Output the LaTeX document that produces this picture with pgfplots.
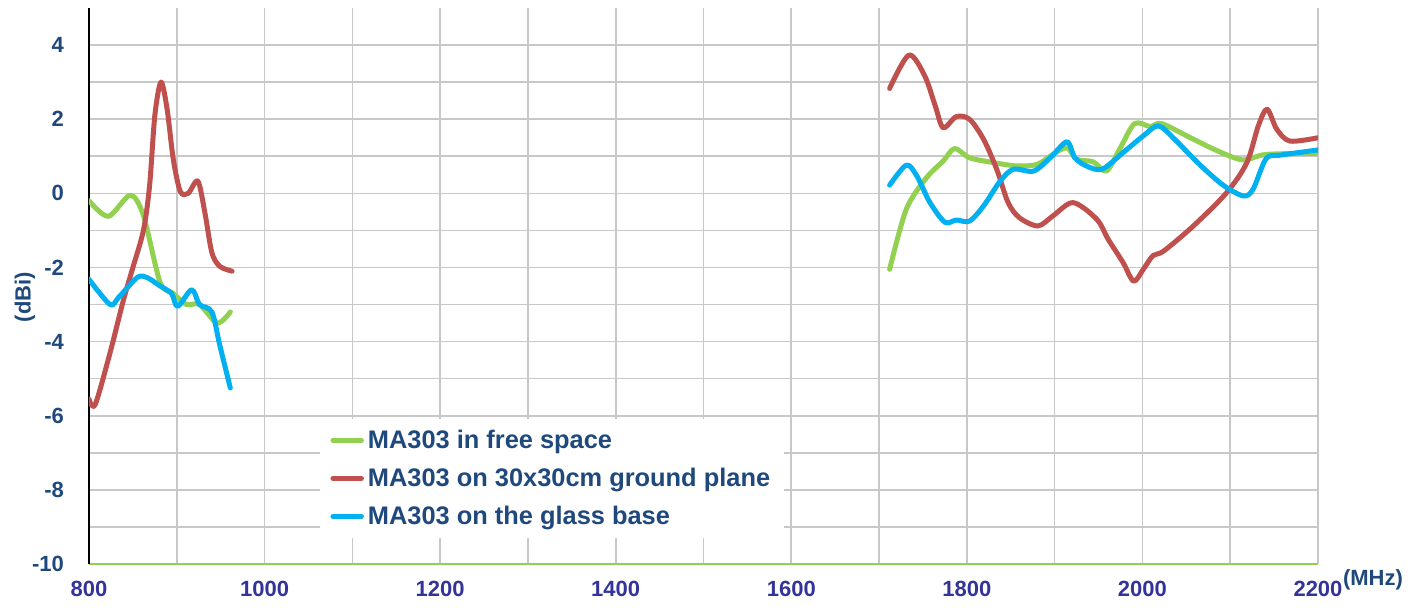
\documentclass[border=0pt]{standalone}
\usepackage{fontspec}
\setmainfont{Liberation Sans}
\usepackage{pgfplots}
\pgfplotsset{compat=1.18}
\definecolor{cgreen}{RGB}{146,208,80}
\definecolor{cred}{RGB}{192,80,77}
\definecolor{cblue}{RGB}{0,176,240}
\definecolor{navy}{RGB}{31,73,125}
\definecolor{xnavy}{RGB}{51,51,153}
\definecolor{gridgray}{RGB}{200,200,200}
\begin{document}
\begin{tikzpicture}
\path[use as bounding box] (-44.5pt,-21.5pt) rectangle (666pt,282pt);
\begin{axis}[
    at={(0,0)}, anchor=south west,
    scale only axis,
    width=614.5pt, height=278pt,
    xmin=800, xmax=2200, ymin=-10, ymax=5,
    axis x line*=bottom, axis y line*=left,
    x axis line style={-, draw=cgreen, line width=1pt},
    y axis line style={-, draw=black, line width=0.8pt},
    xtick={800,1000,...,2200},
    minor xtick={900,1100,...,2100},
    ytick={-10,-8,...,4},
    minor ytick={-9,-7,...,3},
    grid=both,
    major grid style={draw=gridgray, line width=0.8pt},
    minor grid style={draw=gridgray, line width=0.8pt},
    tick style={draw=none},
    /pgf/number format/assume math mode=true,
    /pgf/number format/1000 sep={},
    xticklabel style={font=\bfseries\fontsize{11}{12}\selectfont, text=xnavy, yshift=-5pt},
    yticklabel style={font=\bfseries\fontsize{11}{12}\selectfont, text=navy, xshift=-9pt},
    ylabel={(dBi)},
    ylabel style={font=\bfseries\fontsize{11}{12}\selectfont, text=navy, at={(rel axis cs:0,0.48)}, anchor=center, yshift=32pt},
    xlabel={(MHz)},
    xlabel style={font=\bfseries\fontsize{11}{12}\selectfont, text=navy, at={(rel axis cs:1,0)}, anchor=center, xshift=27.5pt, yshift=-8pt},
    legend style={at={(rel axis cs:0.188,0.262)}, anchor=north west, draw=none, fill=white,
        font=\bfseries\fontsize{12.7}{14}\selectfont, text=navy,
        inner xsep=5pt, inner ysep=3.5pt, row sep=4.3pt,
        /tikz/every even column/.style={column sep=0pt}},
    legend cell align=left,
    legend image code/.code={\draw[#1] (0cm,0cm) -- (0.5cm,0cm);},
    every axis plot/.append style={line width=2.5pt, smooth, tension=0.5, line join=round, line cap=round},
]
\addplot[cgreen] coordinates {(800,-0.2)(822,-0.62)(847,-0.05)(862,-0.6)(881,-2.4)(896,-2.7)(911,-3.0)(926,-3.0)(946,-3.5)(961,-3.2)};
\addlegendentry{MA303 in free space}
\addplot[cred] coordinates {(800,-5.55)(807,-5.7)(824,-4.3)(839,-2.9)(850,-2.0)(862,-1.0)(869,0.2)(875,2.1)(882,3.0)(889,2.27)(896,0.92)(904,0.05)(913,0.0)(924,0.33)(932,-0.52)(940,-1.6)(949,-1.97)(963,-2.1)};
\addlegendentry{MA303 on 30x30cm ground plane}
\addplot[cblue] coordinates {(800,-2.32)(824,-3.0)(834,-2.8)(855,-2.27)(866,-2.27)(881,-2.5)(894,-2.7)(901,-3.05)(917,-2.6)(926,-3.0)(940,-3.2)(949,-4.1)(961,-5.25)};
\addlegendentry{MA303 on the glass base}
\addplot[cgreen, forget plot] coordinates {(1712,-2.05)(1731,-0.43)(1754,0.42)(1773,0.87)(1786,1.21)(1803,0.96)(1830,0.83)(1857,0.74)(1880,0.78)(1898,1.05)(1914,1.23)(1925,0.92)(1944,0.85)(1959,0.6)(1974,1.19)(1991,1.88)(2009,1.8)(2022,1.88)(2058,1.46)(2088,1.12)(2115,0.9)(2141,1.05)(2200,1.08)};
\addplot[cred, forget plot] coordinates {(1712,2.83)(1734,3.73)(1752,3.17)(1764,2.36)(1773,1.77)(1788,2.07)(1803,2.0)(1819,1.46)(1834,0.65)(1847,-0.25)(1860,-0.66)(1881,-0.88)(1898,-0.61)(1921,-0.25)(1948,-0.7)(1961,-1.24)(1978,-1.87)(1990,-2.37)(2001,-2.05)(2012,-1.68)(2024,-1.56)(2058,-0.88)(2096,0.02)(2119,0.83)(2132,1.82)(2142,2.27)(2153,1.73)(2168,1.41)(2200,1.5)};
\addplot[cblue, forget plot] coordinates {(1712,0.22)(1731,0.76)(1743,0.47)(1758,-0.25)(1775,-0.78)(1788,-0.72)(1803,-0.75)(1819,-0.34)(1838,0.33)(1853,0.65)(1876,0.6)(1895,0.96)(1914,1.39)(1923,0.96)(1936,0.74)(1954,0.65)(1978,1.1)(2001,1.55)(2018,1.82)(2035,1.5)(2065,0.78)(2092,0.22)(2115,-0.07)(2126,0.11)(2141,0.94)(2157,1.03)(2200,1.17)};
\end{axis}
\end{tikzpicture}
\end{document}
